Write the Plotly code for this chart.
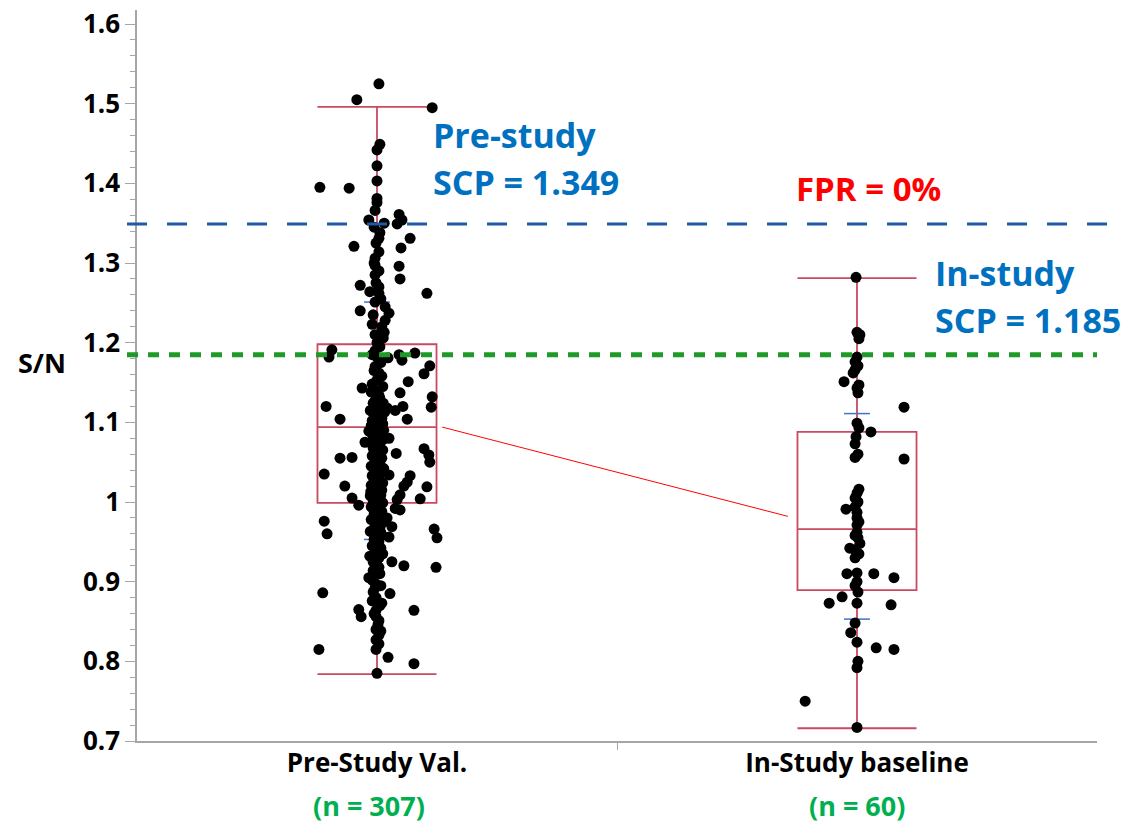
import plotly.graph_objects as go

# ---------------- data ----------------
categories = ["Pre-Study Val.", "In-Study baseline"]
n_labels = ["(n = 307)", "(n = 60)"]

# box statistics
box_q1 = [0.999, 0.8895]
box_median = [1.094, 0.966]
box_q3 = [1.198, 1.088]
box_low = [0.784, 0.716]
box_high = [1.496, 1.281]
# mean +/- sd marks
mean_vals = [1.102, 0.982]
sd_vals = [0.149, 0.129]

pre_scp = 1.349
in_scp = 1.185

# Pre-study points (values) and horizontal jitter (category units)
pre_values = [
    1.525, 1.505, 1.495, 1.449, 1.442, 1.422, 1.403, 1.395, 1.394, 1.381,
    1.376, 1.366, 1.361, 1.354, 1.350, 1.349, 1.354, 1.345, 1.338, 1.331,
    1.331, 1.321, 1.319, 1.325, 1.314, 1.306, 1.296, 1.297, 1.280, 1.285,
    1.270, 1.272, 1.264, 1.262, 1.262, 1.251, 1.245, 1.237, 1.228, 1.240,
    1.223, 1.213, 1.206, 1.200, 1.191, 1.182, 1.190, 1.182, 1.181, 1.185,
    1.178, 1.187, 1.171, 1.161, 1.170, 1.162, 1.153, 1.151, 1.143, 1.140,
    1.134, 1.137, 1.132, 1.120, 1.124, 1.124, 1.118, 1.118, 1.120, 1.119,
    1.115, 1.112, 1.107, 1.100, 1.104, 1.104, 1.094, 1.088, 1.089, 1.075,
    1.080, 1.078, 1.069, 1.063, 1.061, 1.067, 1.059, 1.055, 1.056, 1.050,
    1.035, 1.034, 1.033, 1.025, 1.020, 1.020, 1.019, 1.005, 0.996, 1.013,
    1.009, 1.009, 1.003, 1.004, 0.992, 0.990, 0.992, 0.990, 0.976, 0.960,
    0.977, 0.980, 0.969, 0.965, 0.962, 0.956, 0.966, 0.955, 0.932, 0.925,
    0.921, 0.925, 0.920, 0.918, 0.905, 0.898, 0.886, 0.887, 0.880, 0.873,
    0.885, 0.865, 0.856, 0.864, 0.864, 0.856, 0.846, 0.840, 0.833, 0.827,
    0.815, 0.805, 0.797, 0.785,
    1.300, 1.290, 1.275, 1.255, 1.235, 1.220, 1.210, 1.195, 1.185, 1.175,
    1.165, 1.158, 1.148, 1.145, 1.138, 1.130, 1.127, 1.122, 1.115, 1.113,
    1.108, 1.105, 1.102, 1.098, 1.096, 1.092, 1.090, 1.085, 1.083, 1.079,
    1.074, 1.072, 1.068, 1.065, 1.062, 1.058, 1.055, 1.052, 1.048, 1.045,
    1.042, 1.040, 1.037, 1.033, 1.030, 1.027, 1.024, 1.021, 1.018, 1.015,
    1.012, 1.008, 1.005, 1.002, 0.999, 0.996, 0.994, 0.988, 0.985, 0.982,
    0.978, 0.974, 0.971, 0.968, 0.963, 0.958, 0.953, 0.950, 0.945, 0.942,
    0.938, 0.935, 0.930, 0.927, 0.918, 0.914, 0.910, 0.902, 0.895, 0.892,
    0.876, 0.870, 0.860, 0.851, 0.838, 0.822, 0.815,
]
pre_jitter = [
    0.004, -0.042, 0.115, 0.006, 0.000, 0.000, 0.000, -0.119, -0.058, 0.000,
    0.000, -0.004, 0.046, -0.017, 0.015, 0.042, 0.052, -0.006, 0.006, 0.004,
    0.069, -0.048, 0.050, -0.002, 0.004, -0.004, 0.046, -0.004, 0.048, -0.004,
    0.004, -0.035, -0.015, 0.104, 0.004, -0.004, 0.017, 0.025, 0.017, -0.035,
    -0.010, 0.015, 0.013, 0.000, -0.094, -0.100, -0.004, 0.000, 0.023, 0.046,
    0.052, 0.079, 0.110, 0.098, -0.004, 0.004, 0.000, 0.065, -0.031, -0.004,
    0.004, 0.048, 0.115, -0.106, -0.008, 0.013, 0.021, 0.000, 0.054, 0.113,
    0.038, -0.008, 0.000, 0.006, -0.077, 0.063, -0.006, -0.002, -0.017, -0.025,
    0.025, -0.004, 0.000, -0.006, 0.040, 0.098, 0.108, -0.077, -0.052, 0.110,
    -0.110, 0.025, 0.069, 0.063, 0.056, -0.067, 0.104, -0.052, -0.038, -0.013,
    0.008, 0.048, 0.042, 0.090, -0.008, 0.006, 0.038, 0.048, -0.110, -0.104,
    -0.004, 0.021, 0.031, -0.008, 0.008, 0.025, 0.119, 0.125, -0.015, -0.008,
    0.000, 0.031, 0.056, 0.123, -0.017, -0.004, -0.113, -0.008, -0.002, 0.010,
    0.027, -0.038, -0.033, 0.077, -0.002, -0.002, 0.002, -0.002, 0.004, -0.002,
    -0.121, 0.023, 0.077, 0.000,
    -0.006, 0.004, -0.002, 0.008, -0.008, 0.010, -0.004, 0.006, -0.010, 0.008,
    -0.006, 0.010, -0.010, 0.012, -0.012, 0.006, -0.004, 0.002, -0.014, 0.016,
    -0.004, 0.010, -0.010, 0.012, -0.012, 0.004, 0.014, -0.010, 0.008, 0.014,
    -0.012, 0.006, -0.008, 0.012, 0.002, -0.010, 0.010, -0.004, 0.006, -0.012,
    0.014, -0.002, 0.008, -0.010, 0.004, -0.006, 0.012, -0.012, 0.002, 0.010,
    -0.004, -0.014, 0.006, -0.008, 0.012, 0.000, -0.012, 0.010, -0.006, 0.004,
    -0.012, 0.012, -0.004, 0.006, -0.014, 0.010, -0.006, 0.004, -0.010, 0.008,
    -0.002, 0.012, 0.004, -0.006, 0.004, -0.008, 0.006, -0.010, 0.008, -0.004,
    -0.010, 0.006, -0.006, 0.004, 0.008, 0.004, -0.002,
]

# In-study points and jitter
in_values = [
    1.282, 1.213, 1.210, 1.182, 1.171, 1.162, 1.166, 1.151, 1.143, 1.137,
    1.119, 1.099, 1.093, 1.088, 1.082, 1.073, 1.056, 1.054, 1.016, 1.011,
    1.005, 0.991, 0.994, 0.987, 0.980, 0.971, 0.962, 0.955, 0.948, 0.942,
    0.940, 0.930, 0.910, 0.911, 0.910, 0.905, 0.900, 0.887, 0.881, 0.873,
    0.873, 0.871, 0.848, 0.836, 0.824, 0.817, 0.815, 0.800, 0.792, 0.750,
    0.717, 1.205, 1.176, 1.147, 1.060, 1.000, 0.975, 0.958, 0.935, 0.895,
]
in_jitter = [
    -0.002, 0.000, 0.006, 0.000, 0.002, -0.008, -0.004, -0.027, 0.000, 0.002,
    0.098, 0.000, 0.004, 0.029, -0.002, -0.004, -0.004, 0.098, 0.004, 0.000,
    -0.004, -0.023, -0.004, 0.000, 0.000, 0.000, 0.000, 0.002, 0.006, -0.015,
    -0.004, -0.004, -0.021, 0.000, 0.035, 0.077, 0.000, 0.002, -0.031, -0.058,
    0.000, 0.071, -0.004, -0.013, 0.000, 0.040, 0.077, 0.002, 0.000, -0.108,
    0.000, 0.004, -0.004, 0.004, 0.002, 0.002, 0.004, -0.004, 0.004, -0.004,
]

# ---------------- styles ----------------
FONT = "Open Sans"
BOX_COLOR = "#C84B5F"
AXIS_COLOR = "#A6A6A6"
BOX_WIDTH = 0.248
SD_HALF = 0.027

fig = go.Figure()

for i, cat in enumerate(categories):
    fig.add_trace(go.Box(
        x=[i], q1=[box_q1[i]], median=[box_median[i]], q3=[box_q3[i]],
        lowerfence=[box_low[i]], upperfence=[box_high[i]],
        width=BOX_WIDTH, whiskerwidth=1, boxpoints=False,
        line=dict(color=BOX_COLOR, width=1.8), fillcolor="rgba(0,0,0,0)",
        name=cat, showlegend=False, hoverinfo="skip",
    ))

# mean +/- sd short blue marks
sx, sy = [], []
for i in range(len(categories)):
    for v in (mean_vals[i] + sd_vals[i], mean_vals[i] - sd_vals[i]):
        sx += [i - SD_HALF, i + SD_HALF, None]
        sy += [v, v, None]
fig.add_trace(go.Scatter(x=sx, y=sy, mode="lines",
                         line=dict(color="#4472C4", width=1.5),
                         showlegend=False, hoverinfo="skip"))

# connecting line between the groups (drawn between the boxes)
gap = 0.012
fig.add_trace(go.Scatter(
    x=[0 + BOX_WIDTH / 2 + gap, 1 - BOX_WIDTH / 2 - 0.02],
    y=[box_median[0], mean_vals[1]],
    mode="lines", line=dict(color="#FF0000", width=1),
    showlegend=False, hoverinfo="skip"))

# points
fig.add_trace(go.Scatter(
    x=[0 + j for j in pre_jitter], y=pre_values, mode="markers",
    marker=dict(color="black", size=11, line=dict(width=0)),
    showlegend=False))
fig.add_trace(go.Scatter(
    x=[1 + j for j in in_jitter], y=in_values, mode="markers",
    marker=dict(color="black", size=11, line=dict(width=0)),
    showlegend=False))

# reference lines
fig.add_shape(type="line", xref="paper", yref="y", x0=-0.0104, x1=1.019,
              y0=pre_scp, y1=pre_scp,
              line=dict(color="#1F5AA6", width=3, dash="20px,20px"))
fig.add_shape(type="line", xref="paper", yref="y", x0=-0.0104, x1=1.0,
              y0=in_scp, y1=in_scp,
              line=dict(color="#1E9A28", width=5, dash="11px,10px"))

# annotations
big = dict(family=FONT, size=34)
fig.add_annotation(x=0.113, y=1.4607, xref="x", yref="y", text="<b>Pre-study</b>",
                   showarrow=False, xanchor="left", yanchor="middle",
                   font=dict(color="#0070C0", **big))
fig.add_annotation(x=0.113, y=1.4017, xref="x", yref="y", text="<b>SCP = %.3f</b>" % pre_scp,
                   showarrow=False, xanchor="left", yanchor="middle",
                   font=dict(color="#0070C0", **big))
fig.add_annotation(x=0.869, y=1.394, xref="x", yref="y", text="<b>FPR = 0%</b>",
                   showarrow=False, xanchor="left", yanchor="middle",
                   font=dict(color="#FF0000", size=33, family=FONT))
fig.add_annotation(x=1.159, y=1.2874, xref="x", yref="y", text="<b>In-study</b>",
                   showarrow=False, xanchor="left", yanchor="middle",
                   font=dict(color="#0070C0", **big))
fig.add_annotation(x=1.159, y=1.228, xref="x", yref="y", text="<b>SCP = %.3f</b>" % in_scp,
                   showarrow=False, xanchor="left", yanchor="middle",
                   font=dict(color="#0070C0", **big))

n_shift = [-8, 0]
for i, lab in enumerate(n_labels):
    fig.add_annotation(x=i, y=-0.0876, xref="x", yref="paper", text="<b>%s</b>" % lab,
                       showarrow=False, xanchor="center", yanchor="middle",
                       xshift=n_shift[i],
                       font=dict(family=FONT, size=27, color="#00B050"))

fig.add_annotation(x=-0.099, y=1.175, xref="paper", yref="y", text="<b>S/N</b>",
                   showarrow=False, xanchor="center", yanchor="middle",
                   font=dict(family=FONT, size=27, color="black"))

ytickvals = [0.7, 0.8, 0.9, 1.0, 1.1, 1.2, 1.3, 1.4, 1.5, 1.6]
yticktext = ["<b>%g</b>" % v for v in ytickvals]

fig.update_layout(
    width=1126, height=826,
    margin=dict(l=137, r=29, t=10, b=85),
    paper_bgcolor="white", plot_bgcolor="white",
    font=dict(family=FONT, color="black"),
    showlegend=False,
    xaxis=dict(
        range=[-0.5, 1.5], tickmode="array", tickvals=[0, 1],
        ticktext=["<b>%s</b>" % c for c in categories],
        tickfont=dict(family=FONT, size=26, color="black"),
        ticks="", ticklabelstandoff=-2, automargin=False,
        showline=True, linecolor=AXIS_COLOR, linewidth=1.5,
        showgrid=False, zeroline=False,
        minor=dict(tickmode="array", tickvals=[0.5], ticks="outside",
                   ticklen=7, tickcolor=AXIS_COLOR, tickwidth=1, showgrid=False),
    ),
    yaxis=dict(
        range=[0.7, 1.6176], tickmode="array", tickvals=ytickvals, ticktext=yticktext,
        tickfont=dict(family=FONT, size=26, color="black"),
        ticks="outside", ticklen=10, tickcolor=AXIS_COLOR, tickwidth=1,
        automargin=False,
        showline=True, linecolor=AXIS_COLOR, linewidth=1.5,
        showgrid=False, zeroline=False,
        minor=dict(dtick=0.02, tick0=0.7, ticks="outside", ticklen=5,
                   tickcolor=AXIS_COLOR, tickwidth=1, showgrid=False),
    ),
)

fig.write_html("out.html")
